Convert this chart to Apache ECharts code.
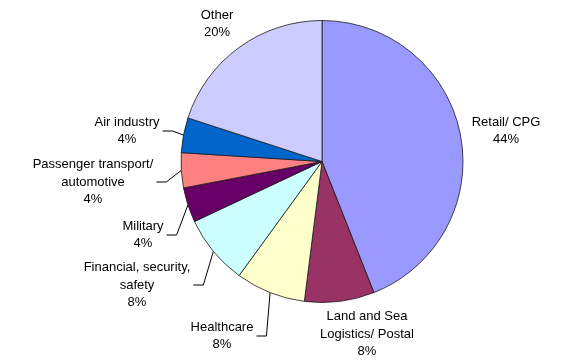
<!DOCTYPE html>
<html>
<head>
<meta charset="utf-8">
<script src="https://cdn.jsdelivr.net/npm/echarts@6/dist/echarts.min.js"></script>
<style>html,body{margin:0;padding:0;background:#fff}#c{width:575px;height:363px}</style>
</head>
<body>
<div id="c"></div>
<script>
var categories = ['Retail/ CPG', 'Land and Sea\nLogistics/ Postal', 'Healthcare', 'Financial, security,\nsafety', 'Military', 'Passenger transport/\nautomotive', 'Air industry', 'Other'];
var values = [44, 8, 8, 8, 4, 4, 4, 20];
var colors = ['#9999FF', '#993366', '#FFFFCC', '#CCFFFF', '#660066', '#FF8080', '#0066CC', '#CCCCFF'];
var showLeader = [false, false, true, true, true, true, true, false];
// label centre positions (layout only)
var labelPos = [[506, 131], [367, 334], [222, 336], [137, 285], [143, 235], [93, 182], [127, 131], [217, 24]];

var chart = echarts.init(document.getElementById('c'), null, {renderer: 'canvas'});
var data = categories.map(function (c, i) {
  return {
    name: c, value: values[i],
    itemStyle: {color: colors[i]},
    labelLine: {show: showLeader[i]}
  };
});
chart.setOption({
  animation: false,
  backgroundColor: '#ffffff',
  series: [{
    type: 'pie',
    center: [322, 161.5],
    radius: 141,
    startAngle: 90,
    clockwise: true,
    avoidLabelOverlap: false,
    data: data,
    itemStyle: {borderColor: '#1a1a1a', borderWidth: 0.8},
    label: {
      show: true,
      position: 'outside',
      formatter: function (p) { return p.name + '\n' + p.value + '%'; },
      fontFamily: '"Liberation Sans", Arial, sans-serif',
      fontSize: 13,
      lineHeight: 17.5,
      color: '#000',
      align: 'center'
    },
    labelLine: {show: true, length: 10, length2: 10, lineStyle: {color: '#000', width: 1}},
    emphasis: {disabled: true},
    labelLayout: function (params) {
      var i = params.dataIndex;
      var pos = labelPos[i];
      var out = {x: pos[0], y: pos[1], align: 'center', verticalAlign: 'middle'};
      if (showLeader[i] && params.labelLinePoints) {
        var start = params.labelLinePoints[0];
        var w = params.labelRect.width;
        var endX = pos[0] + w / 2 + 3;
        var elbowX = endX + 10;
        out.labelLinePoints = [[start[0], start[1]], [elbowX, pos[1]], [endX, pos[1]]];
      }
      return out;
    }
  }]
});
</script>
</body>
</html>
